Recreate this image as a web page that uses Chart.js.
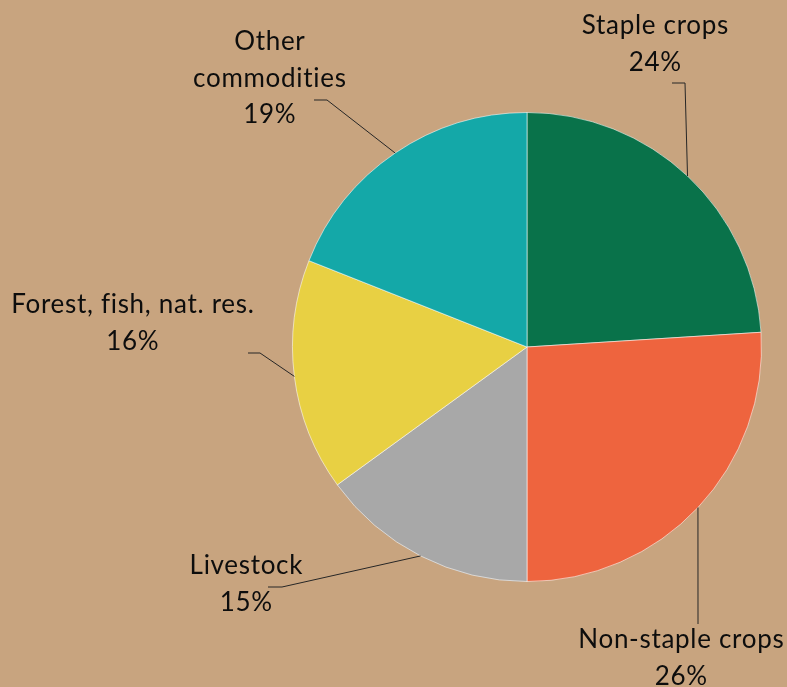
<!DOCTYPE html>
<html>
<head>
  <meta charset="utf-8">
  <title>Commodity shares</title>
  <script src="https://cdnjs.cloudflare.com/ajax/libs/Chart.js/4.4.0/chart.umd.min.js"></script>
  <style>
    html, body {
      margin: 0;
      padding: 0;
      background-color: #C8A47F;
      overflow: hidden;
    }
    #pie {
      display: block;
    }
  </style>
</head>
<body>
  <canvas id="pie" width="787" height="687"></canvas>
  <script>
    // data, clockwise from 12 o'clock
    const categories = ["Staple crops", "Non-staple crops", "Livestock", "Forest, fish, nat. res.", "Other commodities"];
    const shares = [24, 26, 15, 16, 19];
    const sliceColors = ["#09724A", "#EE643E", "#A8A8A8", "#E8D043", "#14A8A8"];
    // label text split into lines as in the original
    const labelLines = [
      ["Staple crops"],
      ["Non-staple crops"],
      ["Livestock"],
      ["Forest, fish, nat. res."],
      ["Other", "commodities"]
    ];

    // where each label sits, relative to the pie centre (px)
    // text: centre x / first baseline; elbow: [lineStart, bend]
    const labelLayout = [
      { text: [128, -313], elbow: [[145, -264], [158, -264]] },
      { text: [154, 301],  elbow: [[171, 277], [171, 277]] },
      { text: [-281, 227], elbow: [[-259, 240], [-245, 240]] },
      { text: [-394.5, -34], elbow: [[-279, 6], [-267, 6]] },
      { text: [-257.5, -297], elbow: [[-213, -247], [-200, -247]] }
    ];

    const leaderLabels = {
      id: "leaderLabels",
      afterDatasetsDraw(chart) {
        const ctx = chart.ctx;
        const arcs = chart.getDatasetMeta(0).data;
        const total = shares.reduce((a, b) => a + b, 0);
        ctx.save();
        arcs.forEach((arc, i) => {
          const p = arc.getProps(["x", "y", "startAngle", "endAngle", "outerRadius"], true);
          const mid = (p.startAngle + p.endAngle) / 2;
          const ex = p.x + Math.cos(mid) * p.outerRadius;
          const ey = p.y + Math.sin(mid) * p.outerRadius;
          const lay = labelLayout[i];
          // leader line
          ctx.strokeStyle = "#262626";
          ctx.lineWidth = 1;
          ctx.beginPath();
          ctx.moveTo(p.x + lay.elbow[0][0], p.y + lay.elbow[0][1]);
          ctx.lineTo(p.x + lay.elbow[1][0], p.y + lay.elbow[1][1]);
          ctx.lineTo(ex, ey);
          ctx.stroke();
          // text
          const lines = labelLines[i].concat([Math.round(shares[i] / total * 100) + "%"]);
          ctx.fillStyle = "#0d0d0d";
          ctx.font = "26px Lato, 'Open Sans', sans-serif";
          ctx.letterSpacing = "0.7px";
          ctx.textAlign = "center";
          ctx.textBaseline = "alphabetic";
          lines.forEach((t, k) => {
            ctx.fillText(t, p.x + lay.text[0] + 0.35, p.y + lay.text[1] + k * 36.7);
          });
        });
        ctx.restore();
      }
    };

    new Chart(document.getElementById("pie").getContext("2d"), {
      type: "pie",
      data: {
        labels: categories,
        datasets: [{
          data: shares,
          backgroundColor: sliceColors,
          borderColor: "rgba(255,255,255,0.55)",
          borderWidth: 1
        }]
      },
      options: {
        responsive: false,
        animation: false,
        devicePixelRatio: 1,
        layout: {
          padding: { left: 292, right: 25, top: 112, bottom: 105 }
        },
        plugins: {
          legend: { display: false },
          tooltip: { enabled: false }
        }
      },
      plugins: [leaderLabels]
    });
  </script>
</body>
</html>
